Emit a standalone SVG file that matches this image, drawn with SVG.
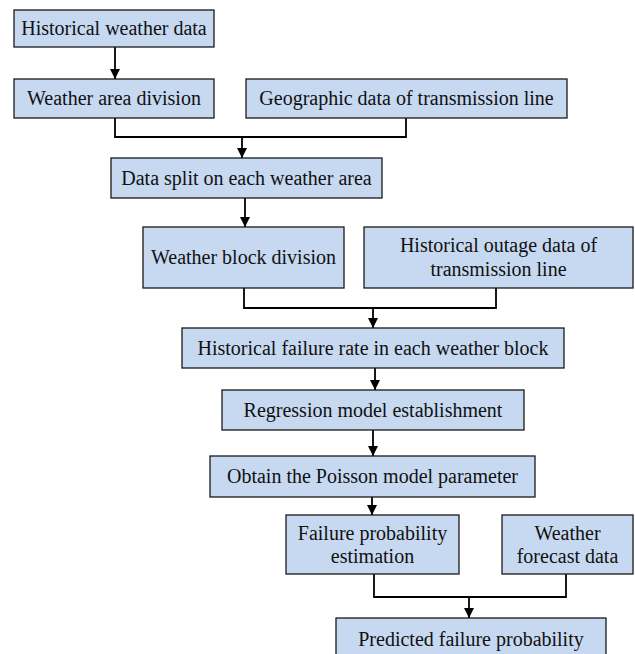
<svg xmlns="http://www.w3.org/2000/svg" width="635" height="654" viewBox="0 0 635 654">
<style>
.box{fill:#c6d9f0;stroke:#1a1a1a;stroke-width:1.3}
.t{font-family:"Liberation Serif","Times New Roman",serif;font-size:20px;fill:#111;text-anchor:middle}
.c{fill:none;stroke:#000;stroke-width:1.8}
</style>
<defs>
<marker id="ah" viewBox="0 0 10 10" refX="10" refY="5" markerWidth="10" markerHeight="10" markerUnits="userSpaceOnUse" orient="auto">
<path d="M0,0 L10,5 L0,10 Z" fill="#000"/>
</marker>
</defs>
<rect width="635" height="654" fill="#fff"/>
<g id="connectors">
<line class="c" x1="115" y1="47" x2="115" y2="79" marker-end="url(#ah)"/>
<polyline class="c" points="115,118 115,137 406,137 406,118"/>
<line class="c" x1="242" y1="137" x2="242" y2="158" marker-end="url(#ah)"/>
<line class="c" x1="245" y1="198" x2="245" y2="227" marker-end="url(#ah)"/>
<polyline class="c" points="244,288 244,308 496,308 496,288"/>
<line class="c" x1="373" y1="308" x2="373" y2="328" marker-end="url(#ah)"/>
<line class="c" x1="375" y1="368" x2="375" y2="390" marker-end="url(#ah)"/>
<line class="c" x1="373" y1="430" x2="373" y2="456" marker-end="url(#ah)"/>
<line class="c" x1="372" y1="497" x2="372" y2="515" marker-end="url(#ah)"/>
<polyline class="c" points="374,574 374,597 566,597 566,574"/>
<line class="c" x1="469" y1="597" x2="469" y2="618" marker-end="url(#ah)"/>
</g>
<g id="n1"><rect class="box" x="14" y="10" width="200" height="37"/><text class="t" x="114" y="35">Historical weather data</text></g>
<g id="n2"><rect class="box" x="14" y="79" width="200" height="39"/><text class="t" x="114" y="105">Weather area division</text></g>
<g id="n3"><rect class="box" x="246" y="79" width="321" height="39"/><text class="t" x="406.5" y="105">Geographic data of transmission line</text></g>
<g id="n4"><rect class="box" x="111" y="158" width="271" height="40"/><text class="t" x="246.5" y="184.5">Data split on each weather area</text></g>
<g id="n5"><rect class="box" x="143" y="227" width="201" height="61"/><text class="t" x="243.5" y="264">Weather block division</text></g>
<g id="n6"><rect class="box" x="364" y="227" width="269" height="61"/><text class="t" x="498.5" y="252">Historical outage data of</text><text class="t" x="498.5" y="276">transmission line</text></g>
<g id="n7"><rect class="box" x="182" y="328" width="382" height="40"/><text class="t" x="373" y="354.5">Historical failure rate in each weather block</text></g>
<g id="n8"><rect class="box" x="222" y="390" width="302" height="40"/><text class="t" x="373" y="416.5">Regression model establishment</text></g>
<g id="n9"><rect class="box" x="210" y="456" width="325" height="41"/><text class="t" x="372.5" y="483">Obtain the Poisson model parameter</text></g>
<g id="n10"><rect class="box" x="286" y="515" width="173" height="59"/><text class="t" x="372.5" y="540">Failure probability</text><text class="t" x="372.5" y="563">estimation</text></g>
<g id="n11"><rect class="box" x="502" y="515" width="131" height="59"/><text class="t" x="567.5" y="540">Weather</text><text class="t" x="567.5" y="563">forecast data</text></g>
<g id="n12"><rect class="box" x="336" y="618" width="270" height="44"/><text class="t" x="471" y="645.5">Predicted failure probability</text></g>
</svg>
